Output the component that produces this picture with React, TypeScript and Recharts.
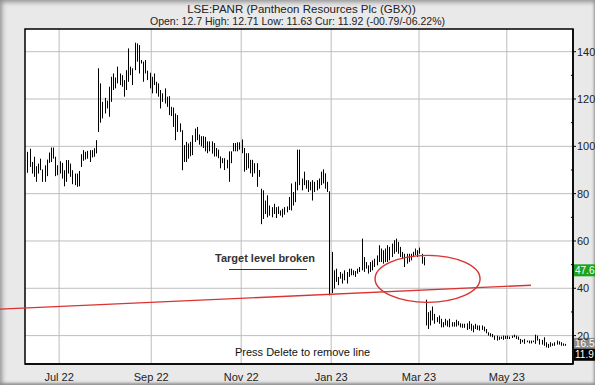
import React from 'react';
import {
  ComposedChart,
  Bar,
  XAxis,
  YAxis,
  CartesianGrid,
  ReferenceLine,
  ReferenceDot,
  ReferenceArea,
} from 'recharts';

// daily high / low pairs, one per trading session
const summer22 = [
  [97.7, 88.8], [99.0, 91.3], [93.4, 88.5], [95.6, 87.1], [91.6, 85.0], [92.7, 88.5], [94.8, 89.9], [90.2, 85.0], [92.0, 85.0], [94.4, 87.4],
  [97.4, 93.0], [99.5, 93.4], [99.5, 94.8], [95.6, 87.4], [92.0, 87.8], [93.7, 88.5], [93.0, 86.4], [89.9, 83.1], [94.2, 85.0], [94.2, 88.5],
  [92.7, 87.1], [89.9, 84.0], [88.5, 83.6], [88.5, 82.9], [89.6, 83.1], [96.7, 91.3], [98.4, 93.9], [97.7, 94.4], [98.1, 94.8], [98.4, 93.4],
  [98.4, 95.3], [99.2, 95.6], [102.6, 97.0], [133.0, 106.1], [126.6, 110.0], [118.8, 111.8], [120.5, 113.9], [119.3, 116.0], [125.2, 112.5],
  [129.4, 118.8], [130.8, 123.8], [129.1, 124.5], [133.7, 126.6], [130.8, 125.9], [130.1, 125.2], [128.0, 121.0], [132.2, 123.8], [141.4, 127.3], [133.7, 130.1],
  [133.0, 125.9], [143.8, 132.2], [143.5, 135.8], [142.8, 130.8], [136.5, 135.0], [135.8, 127.3], [136.5, 130.8], [132.0, 128.0], [131.1, 124.5], [129.4, 122.4],
  [130.8, 125.9], [127.3, 122.4], [126.6, 121.0], [123.8, 116.0], [122.4, 118.8], [124.5, 118.1], [121.0, 116.7], [121.2, 113.2], [116.7, 112.8], [116.4, 108.2],
  [113.9, 102.6], [113.2, 106.1], [109.7, 106.1], [106.8, 89.9], [100.5, 93.4], [101.9, 93.4], [101.2, 94.8], [101.9, 95.8], [104.7, 96.3], [107.5, 101.9], [108.2, 102.6],
];

const autumn22 = [
  [105.0, 100.7], [104.3, 100.0], [104.3, 99.3], [104.0, 97.9], [102.1, 97.1], [102.1, 97.9], [102.1, 96.9], [101.4, 95.7], [99.3, 95.7], [98.6, 95.0],
  [95.7, 90.7], [95.0, 92.9], [95.0, 90.0], [94.3, 90.7], [97.9, 85.0], [97.9, 92.9], [101.4, 97.9], [101.4, 97.9], [101.7, 97.9], [101.7, 98.6],
  [102.9, 97.1], [99.3, 89.3], [97.1, 90.0], [97.1, 90.7], [94.3, 88.6], [94.3, 87.1], [92.9, 88.6], [92.9, 82.9], [90.0, 87.1], [82.1, 67.1],
  [81.4, 69.3], [77.1, 71.4], [79.3, 70.0], [75.0, 70.7], [74.3, 70.0], [75.7, 71.4], [74.3, 69.7], [74.6, 71.4], [72.9, 70.7], [73.6, 70.0],
  [74.3, 71.1], [74.6, 72.1], [78.6, 73.1], [84.3, 72.9], [80.7, 75.0], [85.0, 76.4], [98.6, 81.4], [98.6, 83.6], [86.4, 81.4], [89.3, 83.6],
  [85.7, 82.1], [85.7, 80.7], [85.0, 81.4], [85.7, 77.1], [85.0, 80.7], [85.7, 81.4], [86.4, 82.1], [89.3, 83.6], [90.3, 84.3], [88.6, 82.1], [85.0, 80.7],
  [81.0, 37.0],
];

const winter23 = [
  [55.4, 38.0], [47.6, 39.9], [48.3, 42.7], [44.8, 41.3], [46.9, 44.1], [46.2, 42.0], [47.6, 43.4], [46.9, 42.0], [48.3, 44.8], [48.3, 45.5],
  [47.6, 45.5], [47.3, 44.8], [48.3, 46.2], [49.0, 46.9], [61.0, 47.6], [53.2, 46.9], [51.1, 48.3], [49.7, 46.2], [51.1, 46.9], [51.8, 47.6],
  [52.5, 49.0], [53.9, 49.7], [58.2, 51.1], [56.8, 51.1], [56.1, 50.4], [56.8, 51.1], [58.2, 51.1], [57.5, 51.8], [58.9, 53.2], [60.3, 54.6],
  [61.0, 55.4], [59.6, 54.6], [57.5, 53.2], [55.4, 52.5], [54.6, 49.0], [54.6, 50.4], [54.6, 51.1], [54.6, 51.8], [55.4, 53.2], [56.8, 54.0],
  [56.1, 53.2], [57.2, 54.6], [54.6, 50.4], [53.2, 49.7],
];

const spring23 = [
  [35.2, 24.3], [29.9, 22.8], [30.6, 24.3], [32.3, 26.4], [29.2, 25.0], [27.8, 25.7], [28.5, 25.0], [27.1, 23.5], [25.7, 23.5], [27.1, 24.3],
  [26.4, 23.8], [27.1, 23.5], [25.7, 23.8], [25.7, 23.8], [26.7, 23.8], [26.1, 24.3], [25.2, 23.5], [25.0, 23.3], [25.0, 23.3], [25.2, 22.4],
  [26.1, 22.8], [25.0, 22.1], [24.3, 21.4], [25.0, 22.8], [24.3, 22.4], [24.3, 22.1], [24.3, 22.4], [23.8, 21.8], [22.8, 21.0], [21.4, 20.0],
  [21.0, 19.6], [20.7, 19.3], [20.0, 18.2], [20.0, 17.9], [19.6, 18.2], [19.6, 18.6], [20.0, 18.2], [19.9, 18.6], [20.0, 18.6], [19.6, 18.6],
  [20.0, 19.0], [20.4, 19.3], [20.0, 18.6], [19.6, 18.2], [18.6, 16.5], [18.2, 17.2], [18.6, 16.5], [17.9, 17.2], [17.9, 16.7], [17.9, 16.7],
  [17.9, 17.2], [20.4, 16.5], [20.0, 17.9], [18.6, 16.2], [18.2, 16.2], [19.3, 15.7], [17.2, 15.0], [16.5, 14.8], [17.2, 15.3], [16.7, 15.7],
  [17.2, 15.7], [17.9, 16.2], [17.6, 16.2], [17.2, 15.7], [16.7, 15.7], [16.5, 15.7],
];

// LSE sessions: weekdays minus these closures
const firstSession = '2022-06-10';
const ukHolidays = [
  '2022-08-29', '2022-09-19', '2022-12-26', '2022-12-27', '2023-01-02',
  '2023-04-07', '2023-04-10', '2023-05-01', '2023-05-08', '2023-05-29',
];
const monthNames = ['Jan', 'Feb', 'Mar', 'Apr', 'May', 'Jun', 'Jul', 'Aug', 'Sep', 'Oct', 'Nov', 'Dec'];

const priceGrid = [20, 40, 60, 80, 100, 120, 140];
const priceTicks = [20, 30, 40, 50, 60, 70, 80, 90, 100, 110, 120, 130, 140];
const priceDomain = [8, 149.6];
const sessionDomain = [-0.93, 254.9];

// hand drawn trend line and circle (session index, price)
const trendFrom = { x: -12.75, y: 31.2 };
const trendTo = { x: 235.3, y: 41.3 };
const circleAt = { x: 187, y: 44 };

const priceTags = [
  { value: 47.6, label: '47.6', bg: '#1ea31e' },
  { value: 16.5, label: '16.5', bg: '#8a8a8a' },
  { value: 11.9, label: '11.9', bg: '#000000' },
];

const RED = '#db3232';
const FONT = '"Liberation Sans", Arial, sans-serif';

function tradingDays(count: number) {
  const out: Date[] = [];
  const d = new Date(firstSession + 'T00:00:00Z');
  while (out.length < count) {
    const wd = d.getUTCDay();
    const iso = d.toISOString().slice(0, 10);
    if (wd !== 0 && wd !== 6 && !ukHolidays.includes(iso)) out.push(new Date(d));
    d.setUTCDate(d.getUTCDate() + 1);
  }
  return out;
}

const bars = [...summer22, ...autumn22, ...winter23, ...spring23];
const days = tradingDays(bars.length);
const data = bars.map(([hi, lo], i) => ({ i, range: [lo, hi] }));

// first session of every second month (Jul, Sep, Nov, Jan, ...)
const monthTicks = days
  .map((d, i) => i)
  .filter(i => i > 0 && days[i].getUTCMonth() !== days[i - 1].getUTCMonth() && days[i].getUTCMonth() % 2 === 0);

const monthLabel = (i: number) => {
  const d = days[Math.round(i)];
  return d ? `${monthNames[d.getUTCMonth()]} ${String(d.getUTCFullYear()).slice(2)}` : '';
};

const HighLow = (p: any) => {
  const cx = Math.round(p.x + p.width / 2) + 0.5;
  return <line x1={cx} x2={cx} y1={p.y} y2={p.y + p.height} stroke="#000" strokeWidth={1} />;
};

const PriceTick = (p: any) => {
  const { x, y, payload } = p;
  const ax = x - 4;
  const major = payload.value % 20 === 0;
  return (
    <g>
      {major ? (
        <line x1={ax} x2={ax + 3} y1={y} y2={y} stroke="#000" />
      ) : (
        <line x1={ax - 2} x2={ax} y1={y} y2={y} stroke="#000" />
      )}
      {major && (
        <text x={x} y={y} dy="0.36em" fontSize={11} fill="#222" fontFamily={FONT}>
          {payload.value}
        </text>
      )}
    </g>
  );
};

const tagShape = (tag: { label: string; bg: string }) => (p: any) => (
  <g>
    <rect x={p.cx + 1} y={p.cy - 6} width={24} height={12} fill={tag.bg} />
    <text x={p.cx + 2} y={p.cy} dy="0.36em" fontSize={10} fill="#fff" fontFamily={FONT}>
      {tag.label}
    </text>
  </g>
);

const circleShape = (p: any) => (
  <ellipse cx={p.cx} cy={p.cy} rx={52.5} ry={23.5} fill="none" stroke={RED} strokeWidth={1.4} />
);

export default function App() {
  return (
    <div
      style={{
        position: 'absolute',
        left: 0,
        top: 0,
        width: 595,
        height: 385,
        background: '#e9e9e9',
        boxShadow: 'inset 4px 4px 5px -2px #8f8f8f, inset -2px -3px 3px -1px #8f8f8f',
        fontFamily: FONT,
        overflow: 'hidden',
      }}
    >
      <div style={{ position: 'absolute', top: 3, left: 4, width: 595, textAlign: 'center', fontSize: 11.5, lineHeight: '13px', color: '#222' }}>
        LSE:PANR (Pantheon Resources Plc (GBX))
      </div>
      <div style={{ position: 'absolute', top: 15, left: 0, width: 595, textAlign: 'center', fontSize: 10.5, lineHeight: '13px', color: '#222' }}>
        Open: 12.7 High: 12.71 Low: 11.63 Cur: 11.92 (-00.79/-06.22%)
      </div>

      <ComposedChart
        width={595}
        height={385}
        data={data}
        margin={{ top: 29, left: 25, right: 0, bottom: 0 }}
        style={{ position: 'absolute', left: 0, top: 0 }}
      >
        <CartesianGrid
          yAxisId="p"
          fill="#fff"
          stroke="#bdbdbd"
          horizontalValues={priceGrid}
          verticalValues={monthTicks}
        />
        <XAxis
          dataKey="i"
          type="number"
          domain={sessionDomain}
          allowDataOverflow
          ticks={monthTicks}
          tickFormatter={monthLabel}
          height={21}
          tickLine={false}
          tickSize={4}
          tickMargin={5}
          axisLine={{ stroke: '#000', strokeWidth: 1.5 }}
          tick={{ fontSize: 11, fill: '#222', fontFamily: FONT }}
        />
        <YAxis
          yAxisId="p"
          orientation="right"
          type="number"
          domain={priceDomain}
          allowDataOverflow
          ticks={priceTicks}
          width={22}
          tickSize={3}
          tickMargin={1}
          tickLine={false}
          tick={PriceTick}
          axisLine={{ stroke: '#000', strokeWidth: 1.5 }}
        />
        <YAxis
          yAxisId="l"
          orientation="left"
          mirror
          type="number"
          domain={priceDomain}
          allowDataOverflow
          ticks={priceTicks}
          width={0}
          tickSize={2}
          tick={false}
          tickLine={{ stroke: '#000' }}
          axisLine={false}
        />
        <ReferenceArea
          yAxisId="p"
          x1={sessionDomain[0]}
          x2={sessionDomain[1]}
          y1={priceDomain[0]}
          y2={priceDomain[1]}
          fill="none"
          stroke="#000"
          strokeWidth={1.5}
        />
        <Bar yAxisId="p" dataKey="range" barSize={1} shape={HighLow} isAnimationActive={false} />
        <ReferenceLine
          yAxisId="p"
          segment={[trendFrom, trendTo]}
          stroke={RED}
          strokeWidth={1.4}
          ifOverflow="visible"
        />
        <ReferenceDot yAxisId="p" x={circleAt.x} y={circleAt.y} ifOverflow="visible" shape={circleShape} />
        {priceTags.map(t => (
          <ReferenceDot
            key={t.label}
            yAxisId="p"
            x={sessionDomain[1]}
            y={t.value}
            ifOverflow="visible"
            shape={tagShape(t)}
          />
        ))}
      </ComposedChart>

      <div style={{ position: 'absolute', left: 215, top: 252, fontSize: 11, lineHeight: '13px', fontWeight: 'bold', color: '#333' }}>
        Target level broken
      </div>
      <div style={{ position: 'absolute', left: 229, top: 269, width: 78, height: 1, background: '#333' }} />
      <div style={{ position: 'absolute', left: 235, top: 346, fontSize: 11, lineHeight: '13px', color: '#111' }}>
        Press Delete to remove line
      </div>
    </div>
  );
}
